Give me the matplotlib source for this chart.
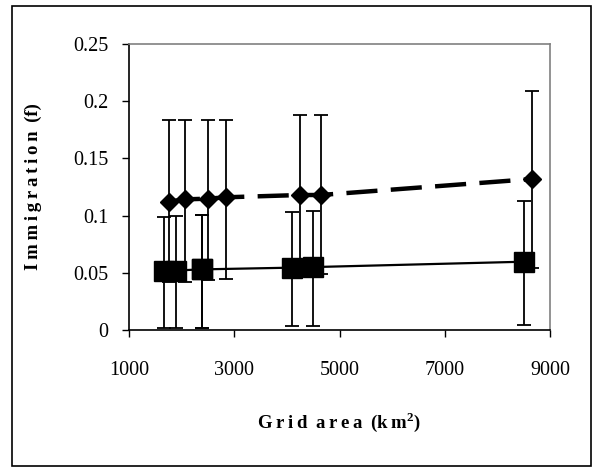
import numpy as np
import matplotlib.pyplot as plt
from matplotlib.patches import Rectangle

# ------------------------------------------------------
# data
sq_x = [1665, 1893, 2382, 2395, 4098, 4497, 8507]
sq_y = [0.052, 0.052, 0.053, 0.053, 0.0545, 0.055, 0.0597]
sq_lo = [0.002, 0.002, 0.002, 0.002, 0.0035, 0.0035, 0.0044]
sq_hi = [0.099, 0.100, 0.1005, 0.1005, 0.103, 0.104, 0.113]

dm_x = [1760, 2064, 2507, 2843, 4250, 4643, 8664]
dm_y = [0.1122, 0.1142, 0.1148, 0.116, 0.118, 0.118, 0.132]
dm_lo = [0.0422, 0.0422, 0.0437, 0.0449, 0.049, 0.049, 0.0545]
dm_hi = [0.184, 0.184, 0.184, 0.184, 0.188, 0.188, 0.209]

x_ticks = [1000, 3000, 5000, 7000, 9000]
y_ticks = [0, 0.05, 0.1, 0.15, 0.2, 0.25]
y_labels = ['0', '0.05', '0.1', '0.15', '0.2', '0.25']

# ------------------------------------------------------
plt.rcParams['font.family'] = ['Liberation Serif', 'DejaVu Serif']
plt.rcParams['mathtext.fontset'] = 'custom'
plt.rcParams['mathtext.rm'] = 'Liberation Serif'
plt.rcParams['mathtext.bf'] = 'Liberation Serif:bold'

fig = plt.figure(figsize=(6.03, 4.72), dpi=100)
ax = fig.add_axes([129/603, 1-330/472, (550-129)/603, (330-44)/472])

# outer frame around the whole figure
fig.patches.append(Rectangle((12/603, 6/472), (591-12)/603, (466-6)/472,
                             transform=fig.transFigure, fill=False,
                             edgecolor='black', linewidth=1.2))

sq_err = [np.array(sq_y) - np.array(sq_lo), np.array(sq_hi) - np.array(sq_y)]
dm_err = [np.array(dm_y) - np.array(dm_lo), np.array(dm_hi) - np.array(dm_y)]

ax.errorbar(dm_x, dm_y, yerr=dm_err, fmt='none', ecolor='black',
            elinewidth=1.3, capsize=5, capthick=1.3, zorder=2)
ax.errorbar(sq_x, sq_y, yerr=sq_err, fmt='none', ecolor='black',
            elinewidth=1.3, capsize=5, capthick=1.3, zorder=2)

ax.plot(dm_x, dm_y, color='black', linewidth=3.2, dashes=(7, 3), zorder=3)
ax.plot(dm_x, dm_y, 'D', color='black', markersize=9.5, zorder=4)
ax.plot(sq_x, sq_y, color='black', linewidth=1.6, zorder=3)
ax.plot(sq_x, sq_y, 's', color='black', markersize=14.5, zorder=4)

ax.set_xlim(1000, 9000)
ax.set_ylim(0, 0.25)
ax.set_xticks(x_ticks)
ax.set_xticklabels([str(t) for t in x_ticks])
ax.set_yticks(y_ticks)
ax.set_yticklabels(y_labels)
ax.tick_params(direction='out', length=5, width=1, labelsize=14.5)
ax.tick_params(axis='y', pad=10)
ax.tick_params(axis='x', pad=17)

for s in ['top', 'right']:
    ax.spines[s].set_color('#808080')
for s in ['left', 'bottom']:
    ax.spines[s].set_color('black')
for s in ax.spines.values():
    s.set_linewidth(1.2)

ts = '\u2009'
xlab = ts.join('Grid') + ts + ' ' + ts.join('area') + ts + ' (' + ts.join('km') + '$^\\mathbf{2}$)'
ylab = ts.join('Immigration') + ts + ' (f)'
ax.set_xlabel(xlab, fontsize=13.5, fontweight='bold', labelpad=22)
ax.set_ylabel(ylab, fontsize=13.5, fontweight='bold', labelpad=22)

fig.savefig('out.png', dpi=100)
